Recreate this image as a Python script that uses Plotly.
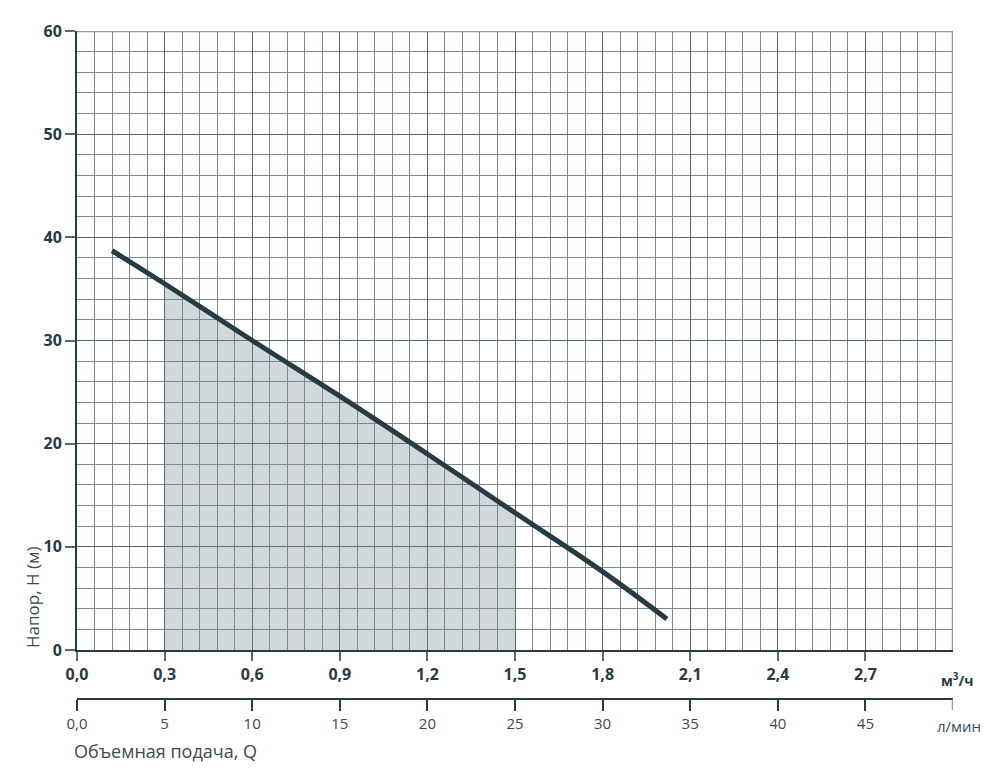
import plotly.graph_objects as go

# Data
flow_m3h = [0.12, 0.3, 0.6, 0.9, 1.2, 1.5, 1.8, 2.02]
head_m = [38.7, 35.5, 30.0, 24.6, 19.0, 13.3, 7.6, 3.0]

work_q = [0.3, 0.6, 0.9, 1.2, 1.5]
work_h = [35.5, 30.0, 24.6, 19.0, 13.3]

x_tickvals = [0.0, 0.3, 0.6, 0.9, 1.2, 1.5, 1.8, 2.1, 2.4, 2.7]
x_ticktext = ["0,0", "0,3", "0,6", "0,9", "1,2", "1,5", "1,8", "2,1", "2,4", "2,7"]
lmin_tickvals = [0, 5, 10, 15, 20, 25, 30, 35, 40, 45]
lmin_ticktext = ["0,0", "5", "10", "15", "20", "25", "30", "35", "40", "45"]
y_tickvals = [0, 10, 20, 30, 40, 50, 60]

DARK = "#263b43"
TXT = "#3a4a50"
GRID_MINOR = "#7a8a8f"
GRID_MAJOR = "#556a71"
BORDER = "#8f9ba0"
FONT = "Open Sans"

fig = go.Figure()

# shaded working range (grid shows through)
fig.add_trace(go.Scatter(
    x=work_q, y=work_h, mode="lines", line=dict(width=0, shape="spline"),
    fill="tozeroy", fillcolor="rgba(118,134,146,0.33)", hoverinfo="skip",
    showlegend=False, xaxis="x", yaxis="y"))

# pump curve
fig.add_trace(go.Scatter(
    x=flow_m3h, y=head_m, mode="lines",
    line=dict(color=DARK, width=5, shape="spline", smoothing=1.3),
    showlegend=False, xaxis="x", yaxis="y"))

# invisible trace for the second (л/мин) axis
fig.add_trace(go.Scatter(x=[0, 50], y=[0, 0], mode="markers",
                         marker=dict(opacity=0), hoverinfo="skip",
                         showlegend=False, xaxis="x2", yaxis="y"))

# page has an 8px body margin: figure 984x766 so the page is 1000x782
ydom0 = (691 - 642) / (691 - 23)

fig.update_layout(
    width=984, height=766,
    margin=dict(l=69, r=39, t=23, b=75),
    plot_bgcolor="white", paper_bgcolor="white",
    font=dict(family=FONT, color=DARK),
    xaxis=dict(
        range=[0, 3.0], anchor="y",
        tickvals=x_tickvals, ticktext=x_ticktext,
        tickfont=dict(size=16, family=FONT, color=DARK, weight="bold"),
        ticks="outside", ticklen=9, tickwidth=1.5, tickcolor=GRID_MAJOR,
        showline=True, linecolor=DARK, linewidth=2,
        showgrid=True, gridcolor=GRID_MAJOR, gridwidth=1.4,
        minor=dict(dtick=0.06, showgrid=True, gridcolor=GRID_MINOR, gridwidth=1),
        zeroline=False, fixedrange=True,
    ),
    xaxis2=dict(
        range=[0, 50], overlaying="x", anchor="free", position=0, side="bottom",
        tickvals=lmin_tickvals, ticktext=lmin_ticktext,
        tickfont=dict(size=15, family=FONT, color=TXT),
        ticks="outside", ticklen=11, tickwidth=1.5, tickcolor=DARK,
        showline=True, linecolor=DARK, linewidth=2,
        showgrid=False, zeroline=False,
    ),
    yaxis=dict(
        range=[0, 60], domain=[ydom0, 1],
        tickvals=y_tickvals,
        tickfont=dict(size=16, family=FONT, color=DARK, weight="bold"),
        ticks="outside", ticklen=10, tickwidth=1.5, tickcolor=GRID_MAJOR,
        showline=True, linecolor=DARK, linewidth=2,
        showgrid=True, gridcolor=GRID_MAJOR, gridwidth=1.4,
        minor=dict(dtick=2, showgrid=True, gridcolor=GRID_MINOR, gridwidth=1),
        zeroline=False,
    ),
    shapes=[
        dict(type="line", xref="x", yref="y", x0=0, x1=3.0, y0=60, y1=60,
             line=dict(color=BORDER, width=2.5), layer="above"),
        dict(type="line", xref="x", yref="y", x0=3.0, x1=3.0, y0=-0.85, y1=60,
             line=dict(color=BORDER, width=2.5), layer="above"),
        dict(type="line", xref="x", yref="paper", x0=3.0, x1=3.0, y0=0, y1=-11 / 668,
             line=dict(color=BORDER, width=2.5), layer="above"),
    ],
    annotations=[
        dict(text="м<sup>3</sup>/ч", xref="paper", yref="paper", x=1.0, y=ydom0,
             xanchor="left", yanchor="middle", xshift=-14, yshift=-30, showarrow=False,
             font=dict(size=14, family=FONT, color=DARK, weight="bold")),
        dict(text="л/мин", xref="paper", yref="paper", x=1.0, y=0,
             xanchor="left", yanchor="middle", xshift=-18, yshift=-27, showarrow=False,
             font=dict(size=15, family=FONT, color=TXT)),
        dict(text="Объемная подача, Q", xref="paper", yref="paper",
             x=0, y=0, xanchor="left", yanchor="middle", xshift=-5, yshift=-52,
             showarrow=False, font=dict(size=18, family=FONT, color=TXT)),
        dict(text="Напор, H (м)", xref="paper", yref="paper",
             x=0, y=ydom0, xanchor="center", yanchor="middle", xshift=-45, yshift=52,
             textangle=-90, showarrow=False,
             font=dict(size=17, family=FONT, color=TXT)),
    ],
)

fig.write_html("out.html")
